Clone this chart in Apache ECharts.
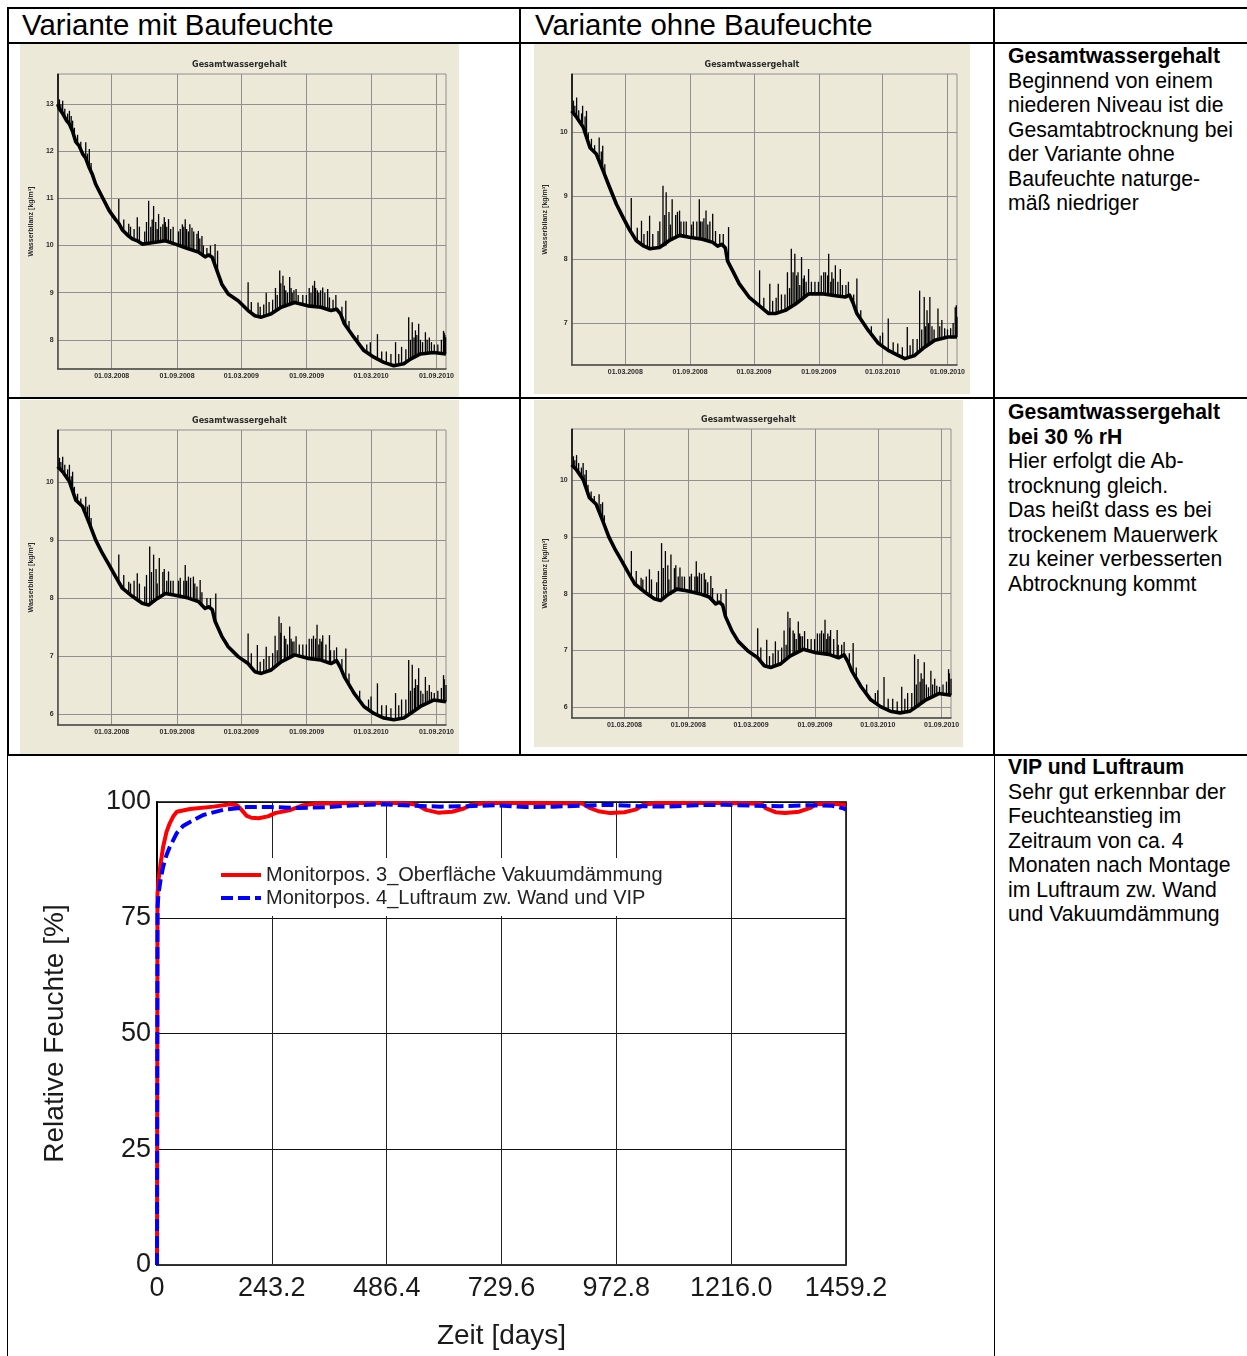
<!DOCTYPE html>
<html>
<head>
<meta charset="utf-8">
<title>Gesamtwassergehalt / VIP und Luftraum</title>
<script src="https://cdn.jsdelivr.net/npm/echarts@6/dist/echarts.min.js"></script>
<style>
    body { margin: 0; background: #fff; }
    #page { position: relative; width: 1247px; height: 1356px; overflow: hidden; font-family: "Liberation Sans", Arial, sans-serif; }
    .linie { position: absolute; background: #000; }
    .kopf { position: absolute; top: 8px; font-size: 29.4px; line-height: 34px; white-space: nowrap; color: #000; }
    .chart { position: absolute; }
    .text { position: absolute; left: 1008px; font-size: 21.2px; line-height: 24.5px; white-space: nowrap; color: #000; }
</style>
</head>
<body>
<div id="page">
    <!-- Tabellenlinien -->
    <div class="linie" style="left:7px;top:7px;width:1240px;height:2px;"></div>
    <div class="linie" style="left:7px;top:42px;width:1240px;height:2px;"></div>
    <div class="linie" style="left:7px;top:397px;width:1240px;height:2px;"></div>
    <div class="linie" style="left:7px;top:754px;width:1240px;height:2px;"></div>
    <div class="linie" style="left:7px;top:7px;width:2px;height:1349px;"></div>
    <div class="linie" style="left:519px;top:7px;width:2px;height:749px;"></div>
    <div class="linie" style="left:993px;top:7px;width:2px;height:1349px;"></div>

    <div class="kopf" style="left:22px;">Variante mit Baufeuchte</div>
    <div class="kopf" style="left:535px;">Variante ohne Baufeuchte</div>

    <div id="chartA" class="chart" style="left:20px;top:44px;width:439px;height:353px;"></div>
    <div id="chartB" class="chart" style="left:534px;top:44px;width:436px;height:350px;"></div>
    <div id="chartC" class="chart" style="left:20px;top:400px;width:439px;height:354px;"></div>
    <div id="chartD" class="chart" style="left:534px;top:400px;width:429px;height:347px;"></div>
    <div id="chartVIP" class="chart" style="left:8px;top:756px;width:986px;height:600px;"></div>

    <div class="text" style="top:44px;"><b>Gesamtwassergehalt</b><br>Beginnend von einem<br>niederen Niveau ist die<br>Gesamtabtrocknung bei<br>der Variante ohne<br>Baufeuchte naturge-<br>mäß niedriger</div>
    <div class="text" style="top:400px;"><b>Gesamtwassergehalt<br>bei 30 % rH</b><br>Hier erfolgt die Ab-<br>trocknung gleich.<br>Das heißt dass es bei<br>trockenem Mauerwerk<br>zu keiner verbesserten<br>Abtrocknung kommt</div>
    <div class="text" style="top:755px;"><b>VIP und Luftraum</b><br>Sehr gut erkennbar der<br>Feuchteanstieg im<br>Zeitraum von ca. 4<br>Monaten nach Montage<br>im Luftraum zw. Wand<br>und Vakuumdämmung</div>
</div>

<script>
//小图共用的时间轴（单位：天，从 01.10.2007 起）
var startDatum = "01.10.2007";
var datumLabels = ["01.03.2008", "01.09.2008", "01.03.2009", "01.09.2009", "01.03.2010", "01.09.2010"];
var tageMax = 1093;

//纵轴刻度
var ticksA = [8, 9, 10, 11, 12, 13];
var ticksB = [7, 8, 9, 10];
var ticksC = [6, 7, 8, 9, 10];

//Variante mit Baufeuchte  [Tag, Wasserbilanz]
var linieA = [[0, 13.0], [5, 12.9], [14, 12.8], [25, 12.65], [33, 12.58], [42, 12.42], [51, 12.2], [60, 12.12], [70, 11.95],
    [79, 11.85], [89, 11.65], [98, 11.5], [107, 11.3], [126, 11.02], [145, 10.74], [163, 10.55], [172, 10.47], [182, 10.33],
    [200, 10.2], [210, 10.14], [224, 10.1], [238, 10.03], [256, 10.05], [275, 10.07], [303, 10.1], [331, 10.03], [350, 9.98],
    [368, 9.93], [396, 9.86], [415, 9.76], [425, 9.8], [435, 9.75], [443, 9.58], [462, 9.18], [480, 8.97], [508, 8.83],
    [536, 8.62], [555, 8.51], [573, 8.48], [601, 8.55], [629, 8.69], [667, 8.79], [704, 8.72], [741, 8.69], [769, 8.62],
    [785, 8.65], [796, 8.55], [807, 8.34], [834, 8.05], [862, 7.77], [890, 7.63], [918, 7.52], [946, 7.45], [974, 7.49],
    [993, 7.59], [1021, 7.7], [1058, 7.73], [1093, 7.7]];
//Spitzen  [Tag, unten, oben]
var spitzenA = [[1, 13.0, 13.64], [5, 12.9, 13.1], [9, 12.85, 13.0], [14, 12.8, 13.07], [20, 12.72, 12.9], [28, 12.62, 12.8],
    [33, 12.58, 12.86], [38, 12.5, 12.75], [42, 12.42, 12.65], [47, 12.32, 12.5], [56, 12.17, 12.35], [65, 12.05, 12.2],
    [79, 11.85, 12.19], [84, 11.75, 11.95], [89, 11.65, 12.05], [94, 11.55, 11.75],
    [172, 10.47, 10.99], [186, 10.3, 10.55], [200, 10.2, 10.46], [205, 10.18, 10.4], [215, 10.12, 10.35], [224, 10.1, 10.6],
    [230, 10.07, 10.4], [245, 10.03, 10.3], [250, 10.04, 10.5], [256, 10.05, 10.95], [262, 10.06, 10.4], [266, 10.06, 10.55],
    [270, 10.06, 10.84], [276, 10.07, 10.5], [280, 10.07, 10.35], [284, 10.08, 10.67], [290, 10.09, 10.4], [296, 10.1, 10.45],
    [300, 10.1, 10.6], [303, 10.1, 10.5], [307, 10.1, 10.4], [312, 10.08, 10.56], [318, 10.06, 10.35], [325, 10.05, 10.4],
    [340, 10.0, 10.3], [345, 9.99, 10.35], [351, 9.98, 10.45], [355, 9.97, 10.4], [359, 9.96, 10.56], [363, 9.95, 10.35],
    [368, 9.93, 10.3], [372, 9.93, 10.45], [378, 9.92, 10.38], [383, 9.91, 10.3], [392, 9.87, 10.25], [396, 9.86, 10.31],
    [400, 9.84, 10.15], [406, 9.8, 10.2], [410, 9.78, 10.0], [420, 9.78, 9.95], [430, 9.76, 10.0], [443, 9.58, 10.03],
    [450, 9.45, 9.89],
    [536, 8.62, 9.22], [545, 8.57, 8.8], [564, 8.5, 8.79], [570, 8.49, 8.7], [580, 8.49, 8.75], [587, 8.5, 9.0],
    [595, 8.52, 8.8], [605, 8.56, 8.85], [613, 8.6, 9.1], [618, 8.62, 8.95], [625, 8.66, 9.47], [628, 8.67, 9.2],
    [634, 8.68, 9.36], [638, 8.69, 9.15], [642, 8.7, 9.05], [647, 8.72, 9.0], [653, 8.74, 9.33], [657, 8.75, 9.1],
    [660, 8.76, 9.0], [665, 8.78, 9.05], [671, 8.78, 9.08], [677, 8.78, 8.95], [690, 8.75, 8.95], [700, 8.73, 8.95],
    [708, 8.72, 9.1], [713, 8.71, 9.0], [718, 8.71, 9.15], [723, 8.7, 9.25], [726, 8.7, 9.1], [731, 8.7, 9.05],
    [735, 8.69, 9.0], [740, 8.69, 9.05], [746, 8.68, 9.11], [752, 8.66, 9.0], [760, 8.64, 9.08], [765, 8.63, 8.9],
    [775, 8.62, 8.85], [783, 8.64, 8.95], [800, 8.45, 8.7], [811, 8.3, 8.83], [820, 8.2, 8.4], [845, 7.95, 8.1],
    [870, 7.72, 7.9], [880, 7.68, 7.95], [900, 7.58, 8.12], [912, 7.55, 7.75], [925, 7.5, 7.75], [938, 7.47, 7.7],
    [951, 7.45, 7.95], [960, 7.46, 7.7], [968, 7.47, 7.85], [980, 7.5, 7.8], [988, 7.55, 8.48], [993, 7.59, 8.0],
    [998, 7.62, 8.37], [1003, 7.64, 8.05], [1007, 7.66, 8.2], [1011, 7.67, 8.1], [1016, 7.68, 8.34], [1021, 7.7, 8.0],
    [1027, 7.71, 7.95], [1035, 7.72, 8.16], [1040, 7.72, 8.0], [1046, 7.73, 8.05], [1052, 7.73, 7.95], [1060, 7.73, 7.9],
    [1070, 7.72, 7.9], [1080, 7.71, 8.0], [1086, 7.7, 8.19], [1088, 7.7, 8.15], [1090, 7.7, 8.1], [1092, 7.7, 8.05]];

//Variante ohne Baufeuchte
var linieB = [[0, 10.34], [14, 10.24], [33, 10.08], [52, 9.76], [70, 9.66], [89, 9.4], [108, 9.13], [127, 8.87], [146, 8.66],
    [165, 8.46], [183, 8.3], [202, 8.22], [221, 8.17], [249, 8.19], [277, 8.3], [306, 8.38], [334, 8.35], [371, 8.32],
    [400, 8.27], [414, 8.21], [426, 8.24], [436, 8.18], [442, 7.98], [456, 7.83], [475, 7.62], [503, 7.41], [531, 7.28],
    [559, 7.15], [578, 7.15], [606, 7.2], [635, 7.3], [672, 7.46], [710, 7.46], [748, 7.43], [776, 7.41], [788, 7.44],
    [798, 7.32], [809, 7.15], [842, 6.88], [870, 6.68], [898, 6.57], [926, 6.49], [945, 6.44], [973, 6.49], [1001, 6.62],
    [1030, 6.73], [1067, 6.78], [1093, 6.78]];
var spitzenB = [[1, 10.34, 10.92], [5, 10.3, 10.5], [9, 10.27, 10.42], [14, 10.24, 10.55], [20, 10.2, 10.35], [28, 10.12, 10.3],
    [31, 10.1, 10.42], [38, 10.0, 10.25], [42, 10.0, 10.34], [47, 9.85, 10.0], [56, 9.74, 9.9], [65, 9.68, 9.8],
    [78, 9.6, 9.92], [84, 9.5, 9.7], [88, 9.45, 9.79], [94, 9.35, 9.5],
    [169, 8.42, 8.97], [186, 8.29, 8.5], [198, 8.23, 8.61], [205, 8.21, 8.4], [215, 8.18, 8.45], [221, 8.17, 8.69],
    [230, 8.17, 8.4], [245, 8.19, 8.45], [250, 8.19, 8.6], [259, 8.2, 9.16], [264, 8.21, 8.7], [268, 8.22, 9.06],
    [276, 8.28, 8.75], [280, 8.31, 8.55], [285, 8.3, 8.95], [295, 8.35, 8.7], [300, 8.37, 8.75], [306, 8.38, 8.77],
    [310, 8.38, 8.6], [318, 8.37, 8.6], [325, 8.36, 8.6], [340, 8.35, 8.55], [345, 8.35, 8.6], [355, 8.34, 8.6],
    [362, 8.33, 8.95], [365, 8.33, 8.6], [370, 8.32, 8.6], [375, 8.31, 8.65], [381, 8.3, 8.77], [386, 8.29, 8.55],
    [392, 8.28, 8.6], [400, 8.27, 8.72], [408, 8.22, 8.45], [420, 8.22, 8.4], [430, 8.2, 8.4], [445, 7.97, 8.51],
    [533, 7.27, 7.83], [545, 7.21, 7.4], [562, 7.15, 7.62], [570, 7.15, 7.35], [580, 7.15, 7.4], [586, 7.16, 7.62],
    [595, 7.18, 7.45], [605, 7.2, 7.45], [612, 7.22, 7.8], [618, 7.24, 7.55], [623, 7.25, 8.17], [628, 7.28, 7.8],
    [633, 7.3, 8.09], [638, 7.31, 7.75], [642, 7.35, 7.8], [647, 7.36, 7.6], [652, 7.38, 8.04], [657, 7.4, 7.7],
    [660, 7.42, 7.75], [665, 7.43, 7.65], [672, 7.46, 7.85], [680, 7.46, 7.65], [690, 7.46, 7.65], [700, 7.46, 7.65],
    [708, 7.46, 7.75], [715, 7.46, 7.8], [720, 7.45, 7.8], [726, 7.45, 7.75], [729, 7.45, 8.09], [735, 7.44, 7.65],
    [738, 7.44, 7.8], [742, 7.44, 7.7], [748, 7.43, 7.91], [755, 7.42, 7.65], [762, 7.42, 7.85], [768, 7.41, 7.6],
    [778, 7.42, 7.6], [785, 7.44, 7.65], [800, 7.3, 7.45], [809, 7.15, 7.7], [820, 7.05, 7.2], [850, 6.82, 6.95],
    [875, 6.65, 6.8], [882, 6.63, 6.85], [898, 6.57, 7.07], [912, 6.53, 6.7], [925, 6.49, 6.68], [938, 6.46, 6.62],
    [952, 6.44, 6.94], [960, 6.46, 6.65], [968, 6.47, 6.75], [980, 6.52, 6.75], [987, 6.55, 7.51], [993, 6.58, 6.9],
    [1000, 6.62, 7.41], [1004, 6.64, 6.95], [1008, 6.66, 7.2], [1012, 6.67, 7.0], [1016, 6.68, 7.41], [1022, 6.7, 6.95],
    [1028, 6.72, 6.9], [1039, 6.74, 7.23], [1044, 6.75, 6.95], [1050, 6.76, 7.05], [1058, 6.77, 6.92], [1066, 6.78, 6.9],
    [1075, 6.78, 6.92], [1082, 6.78, 7.0], [1088, 6.78, 7.25], [1091, 6.78, 7.28], [1093, 6.78, 7.1]];

//Gesamtwassergehalt bei 30 % rH (beide Varianten gleich)
var linieC = [[0, 10.27], [14, 10.18], [33, 10.01], [51, 9.69], [70, 9.58], [89, 9.29], [107, 9.0], [126, 8.77], [145, 8.57],
    [163, 8.37], [182, 8.17], [210, 8.03], [238, 7.91], [256, 7.88], [275, 7.97], [303, 8.08], [331, 8.05], [368, 8.0],
    [396, 7.94], [415, 7.82], [425, 7.85], [435, 7.8], [443, 7.6], [462, 7.34], [480, 7.16], [508, 6.99], [536, 6.87],
    [555, 6.73], [573, 6.7], [601, 6.76], [629, 6.9], [667, 7.02], [704, 6.96], [741, 6.93], [769, 6.87], [785, 6.92],
    [796, 6.8], [807, 6.64], [834, 6.36], [862, 6.13], [890, 6.01], [918, 5.93], [946, 5.9], [974, 5.93], [993, 6.01],
    [1021, 6.13], [1058, 6.24], [1093, 6.21]];
var spitzenC = [[1, 10.27, 10.9], [5, 10.24, 10.42], [9, 10.21, 10.35], [14, 10.18, 10.44], [20, 10.12, 10.3], [28, 10.05, 10.22],
    [33, 10.01, 10.3], [38, 9.92, 10.1], [42, 9.85, 10.18], [47, 9.76, 9.92], [56, 9.66, 9.8], [65, 9.6, 9.72],
    [79, 9.5, 9.75], [84, 9.4, 9.58], [89, 9.29, 9.61], [94, 9.22, 9.38],
    [172, 8.27, 8.75], [186, 8.15, 8.4], [200, 8.1, 8.28], [205, 8.05, 8.25], [215, 8.02, 8.3], [224, 8.0, 8.43],
    [230, 7.95, 8.25], [245, 7.9, 8.2], [250, 7.89, 8.4], [259, 7.89, 8.89], [264, 7.9, 8.45], [270, 7.92, 8.75],
    [277, 7.96, 8.5], [280, 7.99, 8.25], [286, 7.98, 8.69], [296, 8.03, 8.45], [300, 8.07, 8.5], [307, 8.08, 8.3],
    [312, 8.07, 8.46], [318, 8.07, 8.3], [325, 8.06, 8.3], [340, 8.04, 8.3], [345, 8.03, 8.35], [355, 8.02, 8.3],
    [359, 8.02, 8.57], [363, 8.01, 8.3], [368, 8.0, 8.37], [374, 7.99, 8.35], [382, 7.98, 8.37], [386, 7.97, 8.25],
    [392, 7.95, 8.2], [401, 7.92, 8.31], [406, 7.88, 8.1], [420, 7.83, 8.0], [430, 7.82, 8.0], [445, 7.58, 8.08],
    [536, 6.87, 7.39], [545, 6.8, 7.05], [562, 6.72, 7.19], [570, 6.7, 6.9], [580, 6.71, 6.95], [587, 6.72, 7.16],
    [595, 6.74, 7.0], [605, 6.78, 7.05], [612, 6.8, 7.35], [618, 6.84, 7.1], [623, 6.86, 7.68], [628, 6.89, 7.4],
    [629, 6.9, 7.57], [638, 6.92, 7.35], [642, 6.93, 7.3], [647, 6.94, 7.2], [653, 6.95, 7.51], [657, 6.97, 7.3],
    [660, 6.98, 7.25], [665, 7.01, 7.25], [671, 7.02, 7.34], [680, 7.0, 7.2], [690, 6.98, 7.2], [700, 6.97, 7.2],
    [708, 6.96, 7.3], [715, 6.95, 7.3], [720, 6.95, 7.35], [726, 6.94, 7.3], [730, 6.94, 7.54], [735, 6.94, 7.2],
    [738, 6.94, 7.3], [742, 6.93, 7.25], [746, 6.93, 7.36], [755, 6.9, 7.2], [765, 6.88, 7.36], [768, 6.87, 7.1],
    [778, 6.9, 7.1], [785, 6.92, 7.15], [800, 6.75, 6.95], [811, 6.6, 7.13], [820, 6.5, 6.7], [850, 6.22, 6.4],
    [875, 6.07, 6.25], [882, 6.05, 6.3], [900, 5.98, 6.53], [912, 5.95, 6.15], [925, 5.92, 6.15], [938, 5.91, 6.1],
    [951, 5.9, 6.36], [960, 5.91, 6.15], [968, 5.92, 6.25], [980, 5.95, 6.25], [988, 5.98, 6.93], [993, 6.01, 6.4],
    [998, 6.03, 6.85], [1004, 6.06, 6.45], [1007, 6.07, 6.6], [1012, 6.09, 6.5], [1016, 6.1, 6.79], [1022, 6.13, 6.4],
    [1028, 6.15, 6.35], [1035, 6.17, 6.64], [1040, 6.19, 6.4], [1046, 6.2, 6.5], [1052, 6.22, 6.38], [1060, 6.24, 6.36],
    [1070, 6.23, 6.4], [1080, 6.22, 6.45], [1086, 6.21, 6.67], [1088, 6.21, 6.6], [1093, 6.21, 6.5]];

//VIP und Luftraum  [Zeit in Tagen, relative Feuchte %]
var zeitMax = 1459.2;
var zeitSchritt = 243.2;
var feuchteRot = [[0, 0], [1, 80], [3, 83], [8, 87], [13, 90.3], [20, 93.5], [27, 95.4], [35, 97], [42, 97.9], [70, 98.5],
    [120, 99.0], [155, 99.5], [170, 99.3], [180, 98.2], [190, 97.0], [200, 96.6], [215, 96.5], [235, 96.9], [250, 97.6],
    [280, 98.2], [310, 99.3], [340, 99.7], [420, 99.8], [520, 99.8], [550, 99.4], [570, 98.3], [595, 97.7], [625, 97.9],
    [650, 98.6], [665, 99.4], [700, 99.8], [800, 99.8], [900, 99.7], [915, 98.8], [935, 98.0], [960, 97.6], [990, 97.8],
    [1015, 98.4], [1030, 99.4], [1060, 99.8], [1200, 99.8], [1280, 99.6], [1290, 98.6], [1310, 97.8], [1330, 97.6],
    [1360, 97.9], [1385, 98.8], [1395, 99.5], [1430, 99.6], [1459, 99.4]];
var feuchteBlau = [[0, 0], [1, 77], [3, 80], [8, 83.5], [13, 86], [20, 88.5], [27, 90.3], [42, 93.3], [55, 94.8], [70, 95.7],
    [98, 97.2], [140, 98.3], [190, 98.9], [240, 98.9], [300, 98.7], [360, 98.9], [420, 99.3], [480, 99.5], [540, 99.2],
    [600, 99.0], [660, 99.1], [720, 99.3], [780, 98.9], [840, 99.0], [900, 99.2], [960, 99.4], [1020, 99.1], [1080, 99.0],
    [1140, 99.3], [1200, 99.4], [1260, 99.2], [1320, 99.1], [1380, 99.3], [1430, 99.2], [1455, 98.6], [1459, 98.3]];


//日期 -> 天数
function tageSeit(label) {
    var p = label.split(".");
    var s = startDatum.split(".");
    var ms = Date.UTC(+p[2], +p[1] - 1, +p[0]) - Date.UTC(+s[2], +s[1] - 1, +s[0]);
    return Math.round(ms / 86400000);
}
var datumTage = datumLabels.map(tageSeit);

//尖峰用细竖线画
function renderSpitze(params, api) {
    var p0 = api.coord([api.value(0), api.value(1)]);
    var p1 = api.coord([api.value(0), api.value(2)]);
    return {
        type: "line",
        shape: { x1: p0[0], y1: p0[1], x2: p1[0], y2: p1[1] },
        style: { stroke: "#000", lineWidth: 1.3 }
    };
}

function initWasserChart(domId, linie, spitzen, yMin, yMax, yTicks, grid) {
    var myChart = echarts.init(document.getElementById(domId));
    var kleinText = { fontFamily: "Liberation Sans", fontSize: 7, fontWeight: "bold", color: "#2b2b2b" };
    var gitter = { show: true, lineStyle: { color: "#909090", width: 1 } };

    myChart.setOption({
        animation: false,
        backgroundColor: "#ECE9D8",
        title: {
            text: "Gesamtwassergehalt",
            left: "center",
            top: grid.top - 18,
            textStyle: { fontFamily: "DejaVu Sans", fontSize: 8, fontWeight: "bold", color: "#2b2b2b" }
        },
        grid: {
            left: grid.left, top: grid.top, width: grid.width, height: grid.height,
            show: true, borderColor: "#909090", borderWidth: 1, backgroundColor: "transparent"
        },
        xAxis: {
            type: "value",
            min: 0,
            max: tageMax,
            axisLine: { lineStyle: { color: "#4a4a4a", width: 1.5 } },
            axisTick: { show: false, customValues: datumTage },
            axisLabel: {
                customValues: datumTage,
                margin: 4,
                fontFamily: kleinText.fontFamily, fontSize: kleinText.fontSize, fontWeight: kleinText.fontWeight, color: kleinText.color,
                formatter: function (v) {
                    var i = datumTage.indexOf(v);
                    return i >= 0 ? datumLabels[i] : "";
                }
            },
            splitLine: gitter
        },
        yAxis: {
            type: "value",
            min: yMin,
            max: yMax,
            name: "Wasserbilanz [kg/m³]",
            nameLocation: "middle",
            nameGap: 13,
            nameTextStyle: kleinText,
            axisLine: { show: true, lineStyle: { color: "#4a4a4a", width: 1.5 } },
            axisTick: { show: false, customValues: yTicks },
            axisLabel: {
                customValues: yTicks,
                margin: 4,
                fontFamily: kleinText.fontFamily, fontSize: kleinText.fontSize, fontWeight: kleinText.fontWeight, color: kleinText.color
            },
            splitLine: gitter
        },
        series: [
            {
                type: "line",
                data: linie,
                symbol: "none",
                lineStyle: { color: "#000", width: 3.6, join: "round" },
                z: 3
            },
            {
                type: "custom",
                data: spitzen,
                renderItem: renderSpitze,
                encode: { x: 0, y: [1, 2] },
                clip: true,
                z: 4
            }
        ]
    });
    return myChart;
}

initWasserChart("chartA", linieA, spitzenA, 7.38, 13.64, ticksA, { left: 35, top: 30, width: 391, height: 295 });
initWasserChart("chartB", linieB, spitzenB, 6.34, 10.92, ticksB, { left: 35, top: 30, width: 388, height: 291 });
initWasserChart("chartC", linieC, spitzenC, 5.81, 10.9, ticksC, { left: 35, top: 30, width: 391, height: 295 });
initWasserChart("chartD", linieC, spitzenC, 5.81, 10.9, ticksC, { left: 34, top: 29, width: 383, height: 289 });


//VIP und Luftraum
var vipChart = echarts.init(document.getElementById("chartVIP"));
var grossText = { fontFamily: "Liberation Sans", fontSize: 28, color: "#1a1a1a" };
vipChart.setOption({
    animation: false,
    backgroundColor: "#fff",
    grid: { left: 149, top: 46, width: 689, height: 463, show: true, borderColor: "#000", borderWidth: 1.5 },
    legend: {
        orient: "vertical",
        left: 206,
        top: 102,
        padding: [7, 8, 8, 5],
        itemGap: 3,
        itemWidth: 40,
        itemHeight: 14,
        backgroundColor: "#fff",
        itemStyle: { opacity: 0 },
        lineStyle: { width: 4 },
        textStyle: { fontFamily: "Liberation Sans", fontSize: 20, lineHeight: 20, color: "#222" },
        data: ["Monitorpos. 3_Oberfläche Vakuumdämmung", "Monitorpos. 4_Luftraum zw. Wand und VIP"]
    },
    xAxis: {
        type: "value",
        min: 0,
        max: zeitMax,
        interval: zeitSchritt,
        name: "Zeit [days]",
        nameLocation: "middle",
        nameGap: 57,
        nameTextStyle: grossText,
        axisLine: { lineStyle: { color: "#333", width: 1.5 } },
        axisTick: { show: false },
        axisLabel: {
            margin: 10,
            fontFamily: grossText.fontFamily, fontSize: 27, color: grossText.color,
            formatter: function (v) {
                return v === 0 ? "0" : v.toFixed(1);
            }
        },
        splitLine: { show: true, lineStyle: { color: "#222", width: 1 } }
    },
    yAxis: {
        type: "value",
        min: 0,
        max: 100,
        interval: 25,
        name: "Relative Feuchte [%]",
        nameLocation: "middle",
        nameGap: 88,
        nameTextStyle: grossText,
        axisLine: { show: true, lineStyle: { color: "#000", width: 2 } },
        axisTick: { show: false },
        axisLabel: { margin: 6, fontFamily: grossText.fontFamily, fontSize: 27, color: grossText.color },
        splitLine: { show: true, lineStyle: { color: "#111", width: 1 } }
    },
    series: [
        {
            name: "Monitorpos. 3_Oberfläche Vakuumdämmung",
            type: "line",
            data: feuchteRot,
            symbol: "none",
            color: "#ff0000",
            lineStyle: { color: "#ff0000", width: 4 },
            z: 3
        },
        {
            name: "Monitorpos. 4_Luftraum zw. Wand und VIP",
            type: "line",
            data: feuchteBlau,
            symbol: "none",
            color: "#0000ff",
            lineStyle: { color: "#0000ff", width: 4, type: [12, 5] },
            z: 4
        }
    ]
});
</script>
</body>
</html>
